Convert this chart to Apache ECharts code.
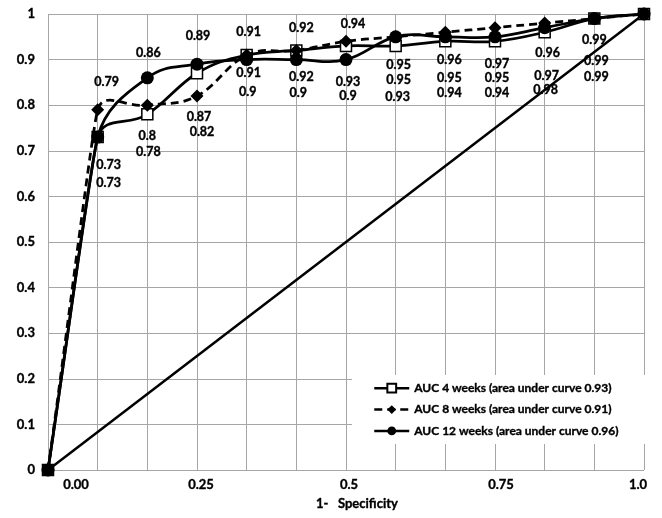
<!DOCTYPE html>
<html><head><meta charset="utf-8">
<script src="https://cdn.jsdelivr.net/npm/echarts@6/dist/echarts.min.js"></script>
<style>html,body{margin:0;padding:0;background:#fff}#c{width:662px;height:518px}</style>
</head><body><div id="c"></div>
<script>
// ---- data ----
const xTickLabels = ['0.00', '', '', '0.25', '', '', '0.5', '', '', '0.75', '', '', '1.0'];
const seriesNames = [
  'AUC 4 weeks (area under curve 0.93)',
  'AUC 8 weeks (area under curve 0.91)',
  'AUC 12 weeks (area under curve 0.96)'
];
const auc4  = [0, 0.73, 0.78, 0.87, 0.91, 0.92, 0.93, 0.93, 0.94, 0.94, 0.96, 0.99, 1];
const auc8  = [0, 0.79, 0.80, 0.82, 0.91, 0.92, 0.94, 0.95, 0.96, 0.97, 0.98, 0.99, 1];
const auc12 = [0, 0.73, 0.86, 0.89, 0.90, 0.90, 0.90, 0.95, 0.95, 0.95, 0.97, 0.99, 1];
const chanceLine = [[0, 0], [xTickLabels.length - 1, 1]];
const yMin = 0, yMax = 1, yStep = 0.1;

// ---- layout (label offsets in px, tick label shifts) ----
const lab4  = [null,[11,28],[1,38],[2,44],[2,18],[5,26],[2,36],[2,51],[4,52],[2,52],[3,21],[2,58],null];
const lab8  = [null,[9,-28],[0,31],[5,36],[2,-23],[5,-23],[7,-17],[3,43],[4,28],[2,36],[1,67],[2,42],null];
const lab12 = [null,[11,46],[1,-25],[1,-28],[1,32],[2,33],[2,36],[3,28],[4,41],[2,41],[2,48],[0,21],null];
const xTickShift = [28,0,0,4,0,0,3,0,0,6,0,0,-6];

const F = 'Lato, "DejaVu Sans", sans-serif';
const GRID = '#a6a6a6';
const THICK = { textBorderColor: '#000', textBorderWidth: 0.35 };
const SPLINE_K = 0.42;

const labelBase = Object.assign({
  show: true, position: 'inside', color: '#000', fontFamily: F,
  fontWeight: 'bold', fontSize: 12.5
}, THICK);

// Spreadsheet-style smoothed line: tangent along neighbours, length limited by the shorter adjacent segment.
function splinePath(pts, k) {
  const n = pts.length;
  const dist = (a, b) => Math.hypot(b[0] - a[0], b[1] - a[1]);
  const tan = pts.map((p, i) => {
    const a = pts[Math.max(i - 1, 0)], b = pts[Math.min(i + 1, n - 1)];
    const dx = b[0] - a[0], dy = b[1] - a[1];
    const len = Math.hypot(dx, dy) || 1;
    const dPrev = i > 0 ? dist(pts[i - 1], p) : Infinity;
    const dNext = i < n - 1 ? dist(p, pts[i + 1]) : Infinity;
    const L = k * Math.min(dPrev, dNext);
    return [dx / len * L, dy / len * L];
  });
  let d = 'M' + pts[0][0] + ' ' + pts[0][1];
  for (let i = 0; i < n - 1; i++) {
    const c1 = [pts[i][0] + tan[i][0], pts[i][1] + tan[i][1]];
    const c2 = [pts[i + 1][0] - tan[i + 1][0], pts[i + 1][1] - tan[i + 1][1]];
    d += ' C' + c1[0] + ' ' + c1[1] + ' ' + c2[0] + ' ' + c2[1] + ' ' + pts[i + 1][0] + ' ' + pts[i + 1][1];
  }
  return d;
}

function makeSeries(name, vals, offs, style, z) {
  const curve = {
    name: name + ' (curve)', type: 'custom', silent: true, z: z,
    data: vals.map((v, i) => [i, v]),
    encode: { x: 0, y: 1 },
    renderItem: function (params, api) {
      if (params.dataIndex !== 0) return null;
      const pts = vals.map((v, i) => api.coord([i, v]));
      return {
        type: 'path',
        shape: { pathData: splinePath(pts, SPLINE_K) },
        style: {
          fill: 'none', stroke: '#000', lineWidth: style.line.width,
          lineDash: Array.isArray(style.line.type) ? style.line.type : null
        }
      };
    }
  };
  const marks = {
    name: name, type: 'line', z: z + 1,
    data: vals.map((v, i) => ({
      value: v,
      label: offs[i] ? { show: true, offset: offs[i] } : { show: false }
    })),
    symbol: style.symbol, symbolSize: style.size,
    itemStyle: style.item,
    lineStyle: { opacity: 0, width: 0 },
    label: labelBase
  };
  return [curve, marks];
}

const rich = {};
xTickShift.forEach((s, i) => {
  rich['t' + i] = Object.assign({
    fontFamily: F, fontWeight: 'bold', fontSize: 13, color: '#000',
    padding: s >= 0 ? [0, 0, 0, 2 * s] : [0, -2 * s, 0, 0]
  }, THICK);
});

const styles = [
  { symbol: 'rect', size: 11, item: { color: '#fff', borderColor: '#000', borderWidth: 1.5 },
    line: { color: '#000', width: 2.75, type: 'solid' } },
  { symbol: 'diamond', size: 13, item: { color: '#000', borderColor: '#000', borderWidth: 0 },
    line: { color: '#000', width: 2.75, type: [8, 5] } },
  { symbol: 'circle', size: 13, item: { color: '#000', borderColor: '#000', borderWidth: 0 },
    line: { color: '#000', width: 2.75, type: 'solid' } }
];

const series = [
  {
    name: 'chance', type: 'line', data: chanceLine, symbol: 'none', silent: true,
    lineStyle: { color: '#000', width: 2.5 }, z: 1
  }
].concat(
  makeSeries(seriesNames[1], auc8, lab8, styles[1], 4),
  makeSeries(seriesNames[2], auc12, lab12, styles[2], 6),
  makeSeries(seriesNames[0], auc4, lab4, styles[0], 2),
  [{
    name: 'origin', type: 'scatter', z: 9, silent: true,
    data: [[0, auc4[0]]],
    symbol: 'rect', symbolSize: 12,
    itemStyle: { color: '#000' }
  }]
);

const chart = echarts.init(document.getElementById('c'), null, { renderer: 'canvas' });
chart.setOption({
  animation: false,
  backgroundColor: '#fff',
  grid: { left: 48, right: 18, top: 14, bottom: 48, containLabel: false },
  xAxis: {
    type: 'category',
    boundaryGap: false,
    data: xTickLabels.map((t, i) => String(i)),
    axisLine: { show: false },
    axisTick: { show: false },
    axisLabel: {
      interval: 0, margin: 8,
      formatter: (v, i) => xTickLabels[i] ? '{t' + i + '|' + xTickLabels[i] + '}' : '',
      rich: rich
    },
    splitLine: { show: true, interval: 0, lineStyle: { color: GRID, width: 1 } },
    name: '1-   Specificity',
    nameLocation: 'middle',
    nameGap: 27,
    nameTextStyle: Object.assign({ fontFamily: F, fontWeight: 'bold', fontSize: 13, color: '#000', padding: [0, 0, 0, 22] }, THICK)
  },
  yAxis: {
    type: 'value', min: yMin, max: yMax, interval: yStep,
    axisLine: { show: false }, axisTick: { show: false },
    axisLabel: Object.assign({ margin: 13, fontFamily: F, fontWeight: 'bold', fontSize: 13, color: '#000' }, THICK),
    splitLine: { show: true, lineStyle: { color: GRID, width: 1 } }
  },
  legend: {
    data: seriesNames.map((n, k) => ({
      name: n,
      lineStyle: { color: '#000', width: 2.5, opacity: 1, type: styles[k].line.type }
    })),
    orient: 'vertical',
    left: 352, top: 375,
    padding: [7, 31, 7, 21],
    backgroundColor: '#fff',
    itemWidth: 35, itemHeight: 11, itemGap: 9,
    textStyle: Object.assign({ fontFamily: F, fontWeight: 'bold', fontSize: 12, color: '#000' }, THICK)
  },
  series: series
});
</script></body></html>
